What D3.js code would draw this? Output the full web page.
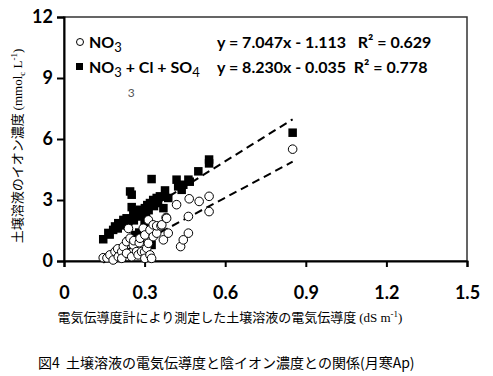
<!DOCTYPE html>
<html lang="ja">
<head>
<meta charset="UTF-8">
<title>土壌溶液の電気伝導度と陰イオン濃度</title>
<script src="https://d3js.org/d3.v7.min.js"></script>
<style>
  body { margin: 0; background: #fff; }
  .tick-label { font-family: Lato, "Noto Sans", sans-serif; font-weight: bold; font-size: 18px; fill: #000; }
  .legend { font-family: Lato, "Noto Sans", sans-serif; font-weight: bold; font-size: 16px; fill: #000; }
  .jp { font-family: "Noto Sans CJK JP", sans-serif; font-size: 13px; fill: #000; }
  .unit { font-family: "Liberation Serif", serif; }
</style>
</head>
<body>
<div id="chart"></div>
<script>
// NO3 (open circles): [EC, concentration]
const no3Points = [
  [0.146,0.16],[0.16,0.15],[0.171,0.3],[0.183,0.05],[0.19,0.46],[0.2,0.6],[0.202,0.21],
  [0.215,0.46],[0.215,0.13],[0.221,0.71],[0.233,0.95],[0.233,0.38],[0.24,1.6],[0.246,1.12],
  [0.252,0.21],[0.258,0.79],[0.26,1.0],[0.27,0.46],[0.276,0.3],[0.28,0.9],[0.283,1.12],
  [0.289,0.46],[0.295,1.61],[0.3,0.45],[0.301,1.28],[0.301,0.13],[0.308,0.63],[0.314,0.87],
  [0.314,2.02],[0.32,0.3],[0.32,1.53],[0.326,0.13],[0.332,1.2],[0.332,1.78],[0.345,1.37],
  [0.345,1.73],[0.361,1.73],[0.364,1.78],[0.37,1.04],[0.38,2.14],[0.382,2.1],[0.388,1.37],
  [0.419,2.77],[0.434,0.71],[0.444,1.04],[0.463,1.37],[0.463,2.19],[0.466,3.06],
  [0.503,2.93],[0.54,3.18],[0.54,2.43],[0.851,5.5]
];
// NO3 + Cl + SO4 (filled squares)
const anionPoints = [
  [0.146,1.07],[0.165,1.38],[0.17,1.3],[0.183,1.53],[0.19,1.7],[0.2,1.6],[0.202,1.86],
  [0.21,1.75],[0.221,2.02],[0.225,1.85],[0.233,2.1],[0.24,1.95],[0.24,0.95],[0.246,3.42],
  [0.252,3.26],[0.252,2.65],[0.258,2.3],[0.26,2.0],[0.264,1.28],[0.27,2.2],[0.276,2.45],
  [0.28,1.4],[0.283,2.52],[0.29,2.2],[0.295,2.4],[0.3,1.9],[0.301,2.6],[0.305,2.35],
  [0.31,2.75],[0.315,2.5],[0.32,2.85],[0.326,4.03],[0.326,1.53],[0.326,0.79],[0.332,3.0],
  [0.335,2.7],[0.345,3.1],[0.35,2.85],[0.357,3.18],[0.37,2.6],[0.376,3.47],[0.388,3.1],
  [0.419,4.0],[0.425,3.67],[0.438,3.5],[0.444,3.75],[0.463,4.0],[0.468,3.9],[0.5,4.41],
  [0.54,4.99],[0.54,4.8],[0.851,6.31]
];
// trend lines: slope, intercept
const trendNo3 = { slope: 7.047, intercept: -1.113 };
const trendAnion = { slope: 8.230, intercept: -0.035 };
const xTicks = [0, 0.3, 0.6, 0.9, 1.2, 1.5];
const yTicks = [0, 3, 6, 9, 12];

const W = 493, H = 376;
const plot = { left: 64, right: 467, top: 17, bottom: 261 };

const svg = d3.select("#chart").append("svg")
  .attr("width", W).attr("height", H);

const x = d3.scaleLinear().domain([0, 1.5]).range([plot.left, plot.right]);
const y = d3.scaleLinear().domain([0, 12]).range([plot.bottom, plot.top]);

// frame
svg.append("rect")
  .attr("x", plot.left).attr("y", plot.top)
  .attr("width", plot.right - plot.left).attr("height", plot.bottom - plot.top)
  .attr("fill", "none").attr("stroke", "#333").attr("stroke-width", 1.5);

// axes
const xAxis = svg.append("g")
  .attr("transform", `translate(0,${plot.bottom})`)
  .call(d3.axisBottom(x).tickValues(xTicks).tickSize(6).tickFormat(d3.format(".1~f")));
xAxis.select(".domain").attr("stroke-width", 2);
xAxis.selectAll(".tick line").attr("stroke-width", 2);
xAxis.selectAll(".tick text").attr("class", "tick-label").attr("dy", null).attr("y", 38);

const yAxis = svg.append("g")
  .attr("transform", `translate(${plot.left},0)`)
  .call(d3.axisLeft(y).tickValues(yTicks).tickSize(7));
yAxis.select(".domain").attr("stroke-width", 2);
yAxis.selectAll(".tick line").attr("stroke-width", 2);
yAxis.selectAll(".tick text").attr("class", "tick-label").attr("x", -11);

// trend lines (over the data x range)
const xr = d3.extent(no3Points.concat(anionPoints), d => d[0]);
[trendNo3, trendAnion].forEach(t => {
  svg.append("line")
    .attr("x1", x(xr[0])).attr("y1", y(t.slope * xr[0] + t.intercept))
    .attr("x2", x(xr[1])).attr("y2", y(t.slope * xr[1] + t.intercept))
    .attr("stroke", "#000").attr("stroke-width", 2).attr("stroke-dasharray", "8,5");
});

// squares
svg.append("g").selectAll("rect")
  .data(anionPoints).join("rect")
  .attr("x", d => x(d[0]) - 4.25).attr("y", d => y(d[1]) - 4.25)
  .attr("width", 8.5).attr("height", 8.5)
  .attr("fill", "#000");

// circles
svg.append("g").selectAll("circle")
  .data(no3Points).join("circle")
  .attr("cx", d => x(d[0])).attr("cy", d => y(d[1]))
  .attr("r", 4.3)
  .attr("fill", "#fff").attr("stroke", "#000").attr("stroke-width", 1);

// stray label in original
svg.append("text").attr("x", x(0.25)).attr("y", y(8.3) + 5)
  .attr("text-anchor", "middle")
  .style("font-family", "Lato, sans-serif").style("font-size", "12px").style("fill", "#555")
  .text("3");

// legend
const lg = svg.append("g");
lg.append("circle").attr("cx", 80).attr("cy", 42).attr("r", 3.5)
  .attr("fill", "#fff").attr("stroke", "#000");
const t1 = lg.append("text").attr("class", "legend").attr("x", 89).attr("y", 48);
t1.append("tspan").text("NO");
t1.append("tspan").attr("dy", 4).attr("font-weight", "normal").attr("font-size", 13).text("3");

lg.append("rect").attr("x", 76).attr("y", 63).attr("width", 7).attr("height", 7).attr("fill", "#000");
const t2 = lg.append("text").attr("class", "legend").attr("x", 89).attr("y", 73);
t2.append("tspan").text("NO");
t2.append("tspan").attr("dy", 4).attr("font-weight", "normal").attr("font-size", 13).text("3");
t2.append("tspan").attr("dy", -4).text(" + Cl + SO");
t2.append("tspan").attr("dy", 4).attr("font-weight", "normal").attr("font-size", 13).text("4");

lg.append("text").attr("class", "legend").attr("x", 217).attr("y", 48)
  .attr("xml:space", "preserve").text("y = 7.047x - 1.113   R² = 0.629");
lg.append("text").attr("class", "legend").attr("x", 217).attr("y", 73)
  .attr("xml:space", "preserve").text("y = 8.230x - 0.035  R² = 0.778");

// y axis title
const yt = svg.append("text").attr("class", "jp")
  .attr("transform", "translate(22,146) rotate(-90)")
  .attr("text-anchor", "middle");
yt.append("tspan").text("土壌溶液のイオン濃度 ");
yt.append("tspan").attr("class", "unit").text("(mmol");
yt.append("tspan").attr("class", "unit").attr("dy", 3).attr("font-size", 9).text("c");
yt.append("tspan").attr("class", "unit").attr("dy", -3).text(" L");
yt.append("tspan").attr("class", "unit").attr("dy", -5).attr("font-size", 9).text("-1");
yt.append("tspan").attr("class", "unit").attr("dy", 5).text(")");

// x axis title
const xt = svg.append("text").attr("class", "jp")
  .attr("x", 230).attr("y", 322).attr("text-anchor", "middle");
xt.append("tspan").text("電気伝導度計により測定した土壌溶液の電気伝導度 ");
xt.append("tspan").attr("class", "unit").text("(dS m");
xt.append("tspan").attr("class", "unit").attr("dy", -5).attr("font-size", 9).text("-1");
xt.append("tspan").attr("class", "unit").attr("dy", 5).text(")");

// caption
svg.append("text").attr("class", "jp")
  .attr("x", 38).attr("y", 368)
  .attr("xml:space", "preserve")
  .style("font-size", "14px")
  .text("図4  土壌溶液の電気伝導度と陰イオン濃度との関係(月寒Ap)");
</script>
</body>
</html>
